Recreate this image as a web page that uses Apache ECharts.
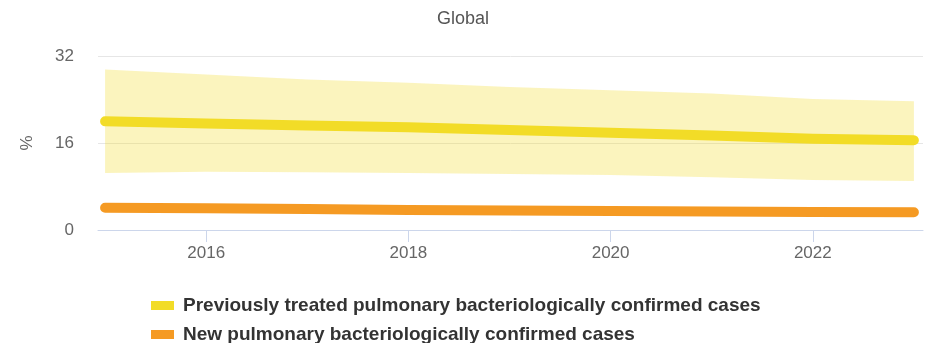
<!DOCTYPE html>
<html>
<head>
<meta charset="utf-8">
<script src="https://cdn.jsdelivr.net/npm/echarts@6/dist/echarts.min.js"></script>
<style>
  html, body { margin: 0; padding: 0; background: #ffffff; }
  #chart { width: 926px; height: 343px; }
</style>
</head>
<body>
<div id="chart"></div>
<script>
// Years covered by the estimates
const years = [2015, 2016, 2017, 2018, 2019, 2020, 2021, 2022, 2023];

// Previously treated pulmonary bacteriologically confirmed cases (%), with uncertainty bounds
const prevTreated = [20.0, 19.6, 19.2, 18.9, 18.4, 17.9, 17.4, 16.8, 16.5];
const prevTreatedLow = [10.5, 10.7, 10.6, 10.5, 10.3, 10.1, 9.7, 9.2, 9.0];
const prevTreatedHigh = [29.5, 28.6, 27.7, 27.1, 26.3, 25.7, 25.1, 24.1, 23.7];

// New pulmonary bacteriologically confirmed cases (%)
const newCases = [4.1, 4.0, 3.85, 3.7, 3.6, 3.5, 3.4, 3.3, 3.25];

const xTickYears = [2016, 2018, 2020, 2022];

const nameTreated = 'Previously treated pulmonary bacteriologically confirmed cases';
const nameNew = 'New pulmonary bacteriologically confirmed cases';

const colorTreated = '#f2dc27';
const colorNew = '#f59a23';

const pairs = (vals) => years.map((y, i) => [y, vals[i]]);

// Uncertainty band: one polygon running along the upper bound and back along the lower bound
function renderBand(params, api) {
  const upper = years.map((y, i) => api.coord([y, prevTreatedHigh[i]]));
  const lower = years.map((y, i) => api.coord([y, prevTreatedLow[i]])).reverse();
  return {
    type: 'polygon',
    shape: { points: upper.concat(lower) },
    style: { fill: 'rgba(242, 220, 39, 0.3)' },
    silent: true
  };
}

const legendText = { fontSize: 19, fontWeight: 'bold', color: '#333333', padding: [0, 0, 0, 4] };

const chart = echarts.init(document.getElementById('chart'), null, { renderer: 'canvas' });

chart.setOption({
  animation: false,
  backgroundColor: '#ffffff',
  textStyle: { fontFamily: '"Liberation Sans", Arial, sans-serif' },
  title: {
    text: 'Global',
    left: 'center',
    top: 5,
    textStyle: { fontSize: 18, fontWeight: 'normal', color: '#555555' }
  },
  legend: [
    {
      left: 146,
      top: 291,
      itemWidth: 23,
      itemHeight: 9,
      icon: 'rect',
      data: [nameTreated],
      textStyle: legendText
    },
    {
      left: 146,
      top: 320,
      itemWidth: 23,
      itemHeight: 9,
      icon: 'rect',
      data: [nameNew],
      textStyle: legendText
    }
  ],
  grid: { left: 98, right: 3, top: 56, height: 174, containLabel: false },
  xAxis: {
    type: 'value',
    min: 2014.93,
    max: 2023.09,
    axisLine: { show: true, lineStyle: { color: '#ccd6eb', width: 1 } },
    axisTick: { show: true, length: 12, customValues: xTickYears, lineStyle: { color: '#ccd6eb' } },
    axisLabel: {
      customValues: xTickYears,
      margin: 15,
      fontSize: 17,
      color: '#666666',
      formatter: (v) => String(v)
    },
    splitLine: { show: false }
  },
  yAxis: {
    type: 'value',
    min: 0,
    max: 32,
    interval: 16,
    name: '%',
    nameLocation: 'middle',
    nameRotate: 90,
    nameGap: 62,
    nameTextStyle: { fontSize: 17, color: '#666666' },
    axisLine: { show: false },
    axisTick: { show: false },
    axisLabel: { margin: 24, fontSize: 17, color: '#666666' },
    splitLine: { lineStyle: { color: '#e6e6e6', width: 1 } }
  },
  series: [
    {
      name: 'uncertainty',
      type: 'custom',
      renderItem: renderBand,
      data: [[years[0], prevTreatedLow[0]]],
      silent: true,
      z: 1
    },
    {
      name: nameTreated,
      type: 'line',
      data: pairs(prevTreated),
      symbol: 'none',
      itemStyle: { color: colorTreated },
      lineStyle: { color: colorTreated, width: 10, cap: 'round', join: 'round' },
      z: 3
    },
    {
      name: nameNew,
      type: 'line',
      data: pairs(newCases),
      symbol: 'none',
      itemStyle: { color: colorNew },
      lineStyle: { color: colorNew, width: 10, cap: 'round', join: 'round' },
      z: 4
    }
  ]
});
</script>
</body>
</html>
